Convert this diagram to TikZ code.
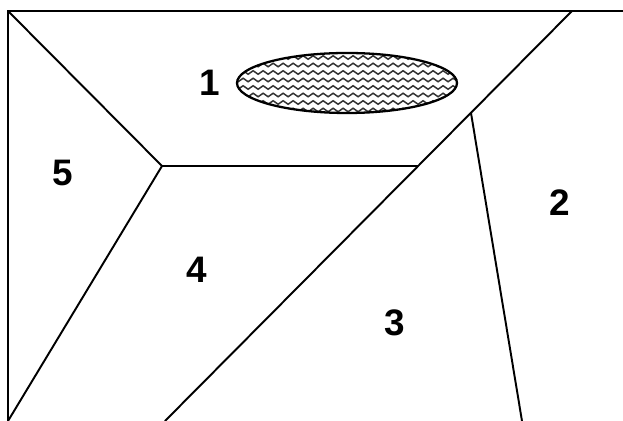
\documentclass[tikz,border=0pt]{standalone}
\usepackage{fontspec}
\setmainfont{Liberation Sans}
\usetikzlibrary{decorations.pathmorphing}
\tikzset{
  edge/.style={line width=1.1pt, line cap=round},
  rim/.style={line width=1.3pt},
  num/.style={font=\fontsize{21}{21}\selectfont\bfseries, inner sep=0pt},
  wave/.style={gray!40!black, line width=0.85pt, decorate,
               decoration={snake, segment length=0.2cm, amplitude=0.035cm}},
}

\begin{document}
\begin{tikzpicture}[x=0.02cm, y=-0.02cm]
  \useasboundingbox (0,0) rectangle (623,421);
  % corners and crossing points
  \coordinate (tl) at (8,11);
  \coordinate (bl) at (8,421);
  \coordinate (te) at (623,11);
  \coordinate (jn) at (162,166);
  \coordinate (md) at (418,166);
  \coordinate (tr) at (572,11);
  \coordinate (bd) at (165,421);
  \coordinate (kn) at (471,113);
  \coordinate (br) at (522,421);
  % frame
  \draw[edge] (bl) -- (tl) -- (te);
  % borders
  \draw[edge] (tl) -- (jn);
  \draw[edge] (jn) -- (md);
  \draw[edge] (jn) -- (bl);
  \draw[edge] (tr) -- (bd);
  \draw[edge] (kn) -- (br);
  % lake
  \begin{scope}
    \clip (347,83) ellipse [x radius=110, y radius=30];
    \foreach \y in {50,57.5,...,120}
      \draw[wave] (230,\y) -- (470,\y);
  \end{scope}
  \draw[rim] (347,83) ellipse [x radius=110, y radius=30];
  % numbers
  \node[num] (n1) at (210,83) {1};
  \node[num] (n2) at (560,203) {2};
  \node[num] (n3) at (395,323) {3};
  \node[num] (n4) at (197,270) {4};
  \node[num] (n5) at (63,173) {5};
\end{tikzpicture}
\end{document}
